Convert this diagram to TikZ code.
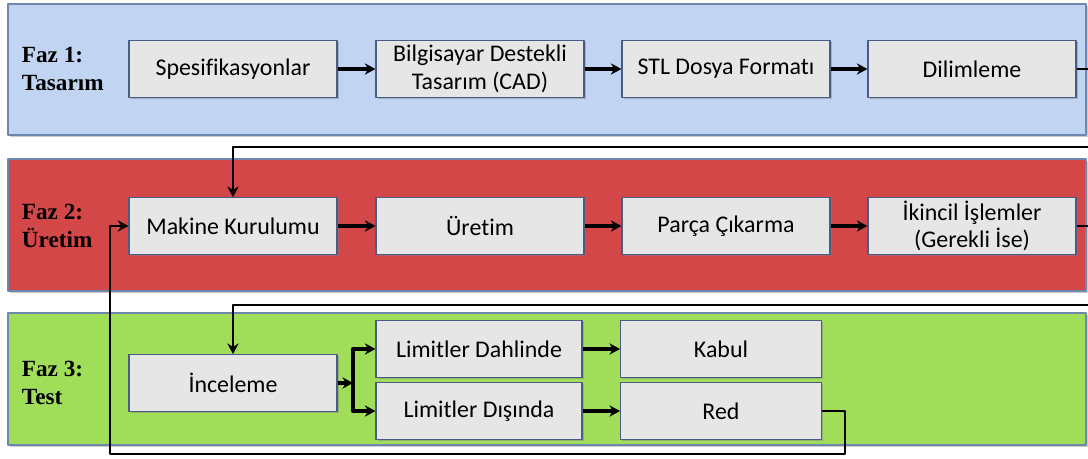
\documentclass[tikz,border=0pt]{standalone}
\usepackage{fontspec}
\setmainfont{Carlito}[Ligatures=CommonOff]
\newfontfamily\fazfont{Liberation Serif}
\usetikzlibrary{arrows.meta,shadows}
\definecolor{mavi}{RGB}{193,212,242}
\definecolor{kirmizi}{RGB}{211,71,72}
\definecolor{yesil}{RGB}{160,222,90}
\definecolor{gri}{RGB}{230,230,230}
\definecolor{kenar}{RGB}{72,92,132}
\definecolor{pkenar}{RGB}{110,135,175}
\begin{document}
\begin{tikzpicture}[x=0.025cm,y=-0.025cm,>={Stealth[length=7.5pt,width=8pt]}, line join=round,
  kutu/.style={draw=kenar, line width=0.8pt, fill=gri, minimum width=5.2cm, minimum height=1.42cm,
    inner sep=0pt, align=center, font=\fontsize{17}{19.5}\selectfont,
    drop shadow={shadow xshift=1.2pt, shadow yshift=-1.2pt, opacity=.45}},
  panel/.style={draw=pkenar, line width=0.8pt,
    drop shadow={shadow xshift=1.5pt, shadow yshift=-1.5pt, opacity=.4}},
  faz/.style={anchor=west, align=left, font=\fazfont\bfseries\fontsize{16.5}{20.5}\selectfont},
  ok/.style={->, line width=2.4pt},
  donus/.style={line width=2pt}]
\useasboundingbox (0,0) rectangle (1088,459);
\def\ya{69} \def\yb{226} \def\yc{383}
% paneller
\draw[panel, fill=mavi] (8,4) rectangle (1086,135);
\draw[panel, fill=kirmizi] (8,159) rectangle (1086,291);
\draw[panel, fill=yesil] (8,313) rectangle (1086,445);
\node[faz] (f1) at (17,\ya) {Faz 1:\\Tasarım};
\node[faz] (f2) at (17,\yb) {Faz 2:\\Üretim};
\node[faz] (f3) at (17,\yc) {Faz 3:\\Test};
% Faz 1
\node[kutu] (spe) at (233,\ya) {Spesifikasyonlar};
\node[kutu] (cad) at (480,\ya) {Bilgisayar Destekli\\Tasarım (CAD)};
\node[kutu] (stl) at (726,\ya) {STL Dosya Formatı};
\node[kutu] (dil) at (972,\ya) {Dilimleme};
% Faz 2
\node[kutu] (mak) at (233,\yb) {Makine Kurulumu};
\node[kutu] (ure) at (480,\yb) {Üretim};
\node[kutu] (par) at (726,\yb) {Parça Çıkarma};
\node[kutu] (iki) at (972,\yb) {İkincil İşlemler\\(Gerekli İse)};
% Faz 3
\node[kutu] (inc) at (233,\yc) {İnceleme};
\node[kutu, minimum width=5.15cm] (dah) at (479,349) {Limitler Dahlinde};
\node[kutu, minimum width=5.15cm] (dis) at (479,411) {Limitler Dışında};
\node[kutu, minimum width=5.02cm] (kab) at (721,349) {Kabul};
\node[kutu, minimum width=5.02cm] (red) at (721,411) {Red};
% baglantilar
\draw[ok] (spe) -- (cad);
\draw[ok] (cad) -- (stl);
\draw[ok] (stl) -- (dil);
\draw[ok] (mak) -- (ure);
\draw[ok] (ure) -- (par);
\draw[ok] (par) -- (iki);
\draw[ok] (dah) -- (kab);
\draw[ok] (dis) -- (red);
\draw[donus, ->] (dil.east) -- (1100,\ya) -- (1100,147) -| (mak.north);
\draw[donus, ->] (iki.east) -- (1100,\yb) -- (1100,305) -| (inc.north);
\coordinate (c) at (353,\yc);
\draw[ok] (inc) -- (c);
\draw[ok] (c) |- (dah.west);
\draw[ok] (c) |- (dis.west);
\draw[donus, ->] (red.east) -- (845,411) -- (845,454) -- (110,454) |- (mak.west);
\end{tikzpicture}
\end{document}
